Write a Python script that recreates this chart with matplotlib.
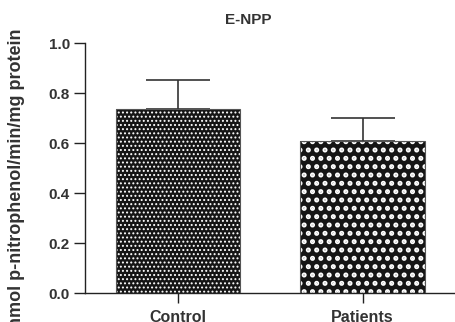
import matplotlib
matplotlib.use("Agg")
import matplotlib.pyplot as plt
import numpy as np

categories = ["Control", "Patients"]
means = [0.736, 0.609]
sem_up = [0.116, 0.092]
hatches = ["....", ".."]
hatch_lw = [0.9, 2.4]
title = "E-NPP"
ylabel = "nmol p-nitrophenol/min/mg protein"
yticks = [0.0, 0.2, 0.4, 0.6, 0.8, 1.0]

plt.rcParams["font.family"] = ["Liberation Sans", "DejaVu Sans"]
plt.rcParams["font.weight"] = "bold"

fig = plt.figure(figsize=(4.55, 3.22), dpi=100)
ax = fig.add_axes([0.187, 0.090, 0.813, 0.776])

x = np.arange(len(categories))
for xi, m, h, hl in zip(x, means, hatches, hatch_lw):
    with plt.rc_context({"hatch.linewidth": hl}):
        b = ax.bar(xi, m, width=0.676, color="#151515", edgecolor="white",
                   hatch=h, linewidth=0, zorder=2)
    for p in b:
        if hasattr(p, "set_hatch_linewidth"):
            p.set_hatch_linewidth(hl)
    ax.bar(xi, m, width=0.676, fill=False, edgecolor="#555555", linewidth=0.8, zorder=3)
ax.errorbar(x, means, yerr=[np.zeros(len(means)), sem_up], fmt="none",
            ecolor="#333333", elinewidth=1.2, capsize=23, capthick=1.2, zorder=1)

ax.set_xlim(-0.503, 1.5)
ax.set_ylim(0, 1.0)
ax.set_yticks(yticks)
ax.set_yticklabels(["%.1f" % v for v in yticks])
ax.set_xticks(x)
ax.set_xticklabels(categories)
for s in ["top", "right"]:
    ax.spines[s].set_visible(False)
for s in ["left", "bottom"]:
    ax.spines[s].set_color("#222222")
    ax.spines[s].set_linewidth(1.0)
ax.tick_params(axis="y", length=8, width=1.0, color="#222222", labelsize=11,
               labelcolor="#333333", pad=3)
ax.tick_params(axis="x", length=7, width=1.0, color="#222222", labelsize=11.5,
               labelcolor="#333333", pad=5)
fig.text(248 / 455, 1 - 20 / 322, title, ha="center", va="center",
         fontsize=11, fontweight="bold", color="#333333")
fig.text(17 / 455, 1 - 29 / 322, ylabel, rotation=90, ha="center", va="top",
         fontsize=13, fontweight="bold", color="#333333")

fig.savefig("out.png", dpi=100)
